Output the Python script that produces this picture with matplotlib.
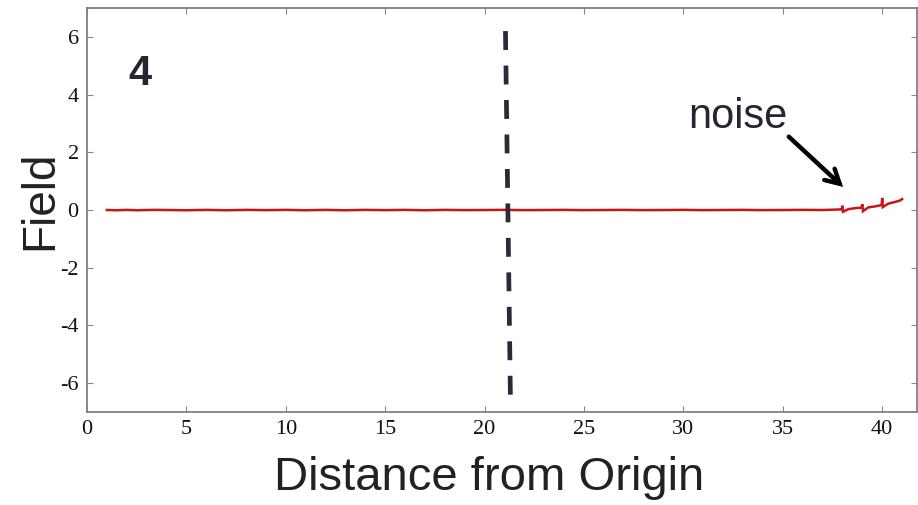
import matplotlib
matplotlib.use("Agg")
import matplotlib.pyplot as plt

# ---- data ----
x_field = [1, 1.5, 2, 2.5, 3, 3.5, 4, 5, 6, 7, 8, 9, 10, 11, 12, 13, 14, 15, 16, 17,
           18, 19, 20, 21, 22, 23, 24, 25, 26, 27, 28, 29, 30, 31, 32, 33, 34, 35, 36,
           37, 37.5, 37.9, 37.97, 38.0, 38.03, 38.3, 38.6, 38.9, 38.97, 39.0, 39.03,
           39.3, 39.6, 39.9, 39.97, 40.0, 40.03, 40.3, 40.6, 40.9, 41.0]
y_field = [0.0, -0.01, 0.005, -0.01, 0.0, 0.005, 0.0, -0.01, 0.005, -0.01, 0.005, -0.005,
           0.005, -0.01, 0.005, -0.01, 0.005, -0.005, 0.005, -0.01, 0.005, -0.005, 0.0, 0.005,
           -0.005, 0.0, 0.005, -0.005, 0.0, 0.005, -0.005, 0.0, 0.005, -0.005, 0.0, 0.005, -0.005,
           0.0, 0.005, 0.0, 0.01, 0.02, 0.03, 0.15, -0.06, 0.03, 0.06, 0.08, 0.1, 0.2, -0.04,
           0.09, 0.12, 0.16, 0.18, 0.42, 0.1, 0.22, 0.27, 0.33, 0.38]
boundary_x = [21.05, 21.3]
boundary_y = [6.2, -6.6]
x_ticks = [0, 5, 10, 15, 20, 25, 30, 35, 40]
y_ticks = [-6, -4, -2, 0, 2, 4, 6]
panel_label = "4"
note_label = "noise"
x_label = "Distance from Origin"
y_label = "Field"

W, H = 918, 505
fig = plt.figure(figsize=(W / 100, H / 100), dpi=100)
ax = fig.add_axes([87 / W, 1 - 412 / H, (917 - 87) / W, (412 - 8) / H])

ax.plot(x_field, y_field, color="#cc1414", lw=1.8, solid_joinstyle="miter")
ax.plot(boundary_x, boundary_y, color="#2a2a38", lw=3.4, dashes=(4.0, 3.3),
        dash_capstyle="butt")

ax.set_xlim(0, 41.75)
ax.set_ylim(-7, 7)
ax.set_xticks(x_ticks)
ax.set_yticks(y_ticks)
ax.set_xticklabels([str(t) for t in x_ticks], family="Liberation Serif", fontsize=16)
ax.set_yticklabels([str(t) for t in y_ticks], family="Liberation Serif", fontsize=16)
ax.tick_params(direction="in", length=4, width=0.8, color="#888888",
               top=True, right=True, pad=6, labelcolor="#111111")
for s in ax.spines.values():
    s.set_color("#808080")
    s.set_linewidth(1.3)

ax.text(2.06, 4.34, panel_label, family="Liberation Sans", fontweight="bold",
        fontsize=30, color="#262633", ha="left", va="baseline")
ax.text(30.23, 2.85, note_label, family="Liberation Sans", fontsize=30,
        color="#262633", ha="left", va="baseline")
ax.annotate("", xy=(38.03, 0.8), xytext=(35.3, 2.54),
            arrowprops=dict(arrowstyle="->,head_length=1.0,head_width=0.55",
                            color="black", lw=3.2, shrinkA=0, shrinkB=0,
                            joinstyle="miter"))

fig.text(489.5 / W, 1 - 478 / H, x_label, family="Liberation Sans", fontsize=34,
         color="#222222", ha="center", va="center")
fig.text(40 / W, 1 - 200 / H, y_label, family="Liberation Sans", fontsize=33,
         color="#222222", ha="center", va="center", rotation=90)

fig.savefig("out.png", dpi=100)
